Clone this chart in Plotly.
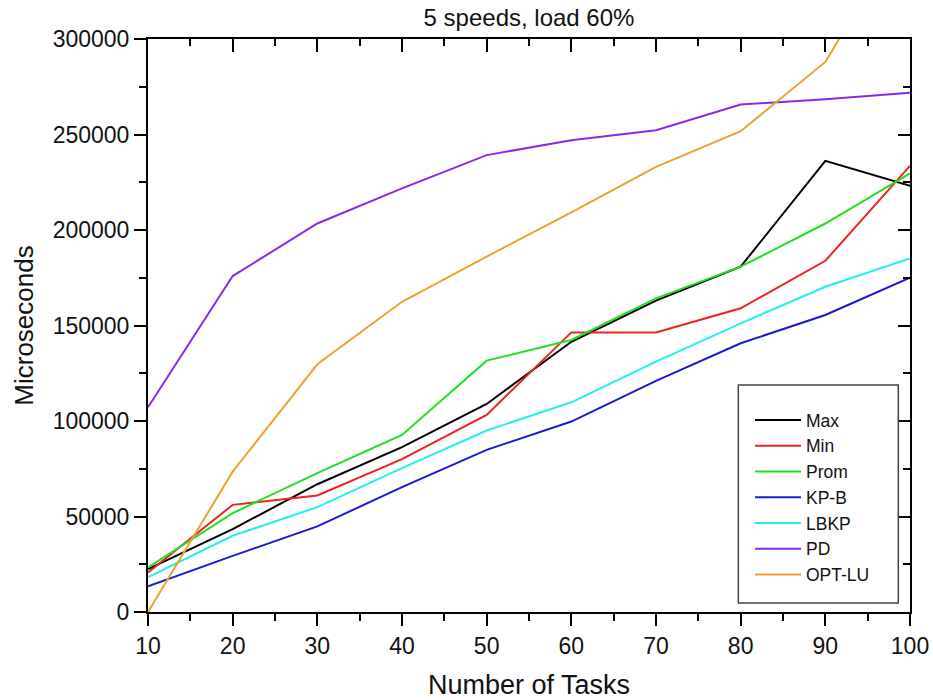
import plotly.graph_objects as go

tasks = [10, 20, 30, 40, 50, 60, 70, 80, 90, 100]
max_vals = [22500, 43400, 66900, 86300, 108900, 141500, 163000, 180800, 236200, 223100]
min_vals = [20700, 56100, 61000, 80000, 103200, 146400, 146400, 159000, 183900, 233600]
prom_vals = [23300, 51800, 72700, 92700, 131600, 142400, 164200, 180800, 203400, 229600]
kpb_vals = [13400, 29400, 44800, 65400, 84900, 99700, 121000, 140700, 155500, 175000]
lbkp_vals = [18300, 39900, 54900, 75300, 95000, 109800, 131100, 151100, 170300, 185100]
pd_vals = [107200, 175900, 203400, 221800, 239200, 247000, 252200, 265700, 268500, 271800]
optlu_vals = [0, 73500, 129700, 162400, 186100, 209200, 233100, 251700, 288000, 362000]

series = [
    ("Max", max_vals, "#000000"),
    ("Min", min_vals, "#ee2222"),
    ("Prom", prom_vals, "#22dd22"),
    ("KP-B", kpb_vals, "#1a1ad0"),
    ("LBKP", lbkp_vals, "#22eeee"),
    ("PD", pd_vals, "#8a2be2"),
    ("OPT-LU", optlu_vals, "#f0a030"),
]

FONT = "Liberation Sans, Arial, sans-serif"

fig = go.Figure()
for i, (name, vals, color) in enumerate(series):
    fig.add_trace(go.Scatter(x=tasks, y=vals, mode="lines", name=name,
                             line=dict(color=color, width=2)))

# dummy trace for mirrored (inside-tick) axes
fig.add_trace(go.Scatter(x=[tasks[0]], y=[0], xaxis="x2", yaxis="y2",
                         mode="markers", marker=dict(opacity=0),
                         showlegend=False, hoverinfo="skip"))

axis_common = dict(showgrid=False, zeroline=False, linecolor="black", linewidth=2,
                   tickcolor="black", tickwidth=2, automargin=False)

L, R, T, B = 148, 910, 39, 612
fig.update_layout(
    width=933, height=700,
    margin=dict(l=L, r=933 - R, t=T, b=700 - B),
    paper_bgcolor="white", plot_bgcolor="white",
    font=dict(family=FONT, color="#111111"),
    title=dict(text="5 speeds, load 60%", x=(L + R) / 2 / 933, xanchor="center",
               y=1 - 18 / 700, yanchor="middle", font=dict(size=24, family=FONT)),
    xaxis=dict(range=[10, 100], dtick=10, tick0=10, ticks="outside", ticklen=12,
               minor=dict(dtick=5, ticks="outside", ticklen=7, tickcolor="black", tickwidth=2),
               tickfont=dict(size=23, family=FONT),
               title=dict(text="Number of Tasks", font=dict(size=27, family=FONT), standoff=18),
               **axis_common),
    yaxis=dict(range=[0, 300000], dtick=50000, ticks="outside", ticklen=12, tickformat="d",
               minor=dict(dtick=25000, ticks="outside", ticklen=7, tickcolor="black", tickwidth=2),
               tickfont=dict(size=23, family=FONT),
               title=dict(text="Microseconds", font=dict(size=26, family=FONT), standoff=12),
               **axis_common),
    xaxis2=dict(range=[10, 100], dtick=10, tick0=10, ticks="inside", ticklen=13,
                minor=dict(dtick=5, ticks="inside", ticklen=7, tickcolor="black", tickwidth=2),
                showticklabels=False, overlaying="x", side="top", anchor="y2",
                **axis_common),
    yaxis2=dict(range=[0, 300000], dtick=50000, ticks="inside", ticklen=12,
                minor=dict(dtick=25000, ticks="inside", ticklen=7, tickcolor="black", tickwidth=2),
                showticklabels=False, overlaying="y", side="right", anchor="x2",
                **axis_common),
    legend=dict(x=(750 - L) / (R - L), xanchor="left", y=(B - 402) / (B - T), yanchor="top",
                bgcolor="rgba(0,0,0,0)", borderwidth=0, font=dict(size=17.5, family=FONT),
                itemwidth=46),
    shapes=[dict(type="rect", xref="paper", yref="paper",
                 x0=(738.3 - L) / (R - L), x1=(898.3 - L) / (R - L),
                 y0=(B - 603) / (B - T), y1=(B - 385) / (B - T),
                 line=dict(color="#444444", width=1.5), fillcolor="rgba(0,0,0,0)")],
)

fig.write_html("out.html")
